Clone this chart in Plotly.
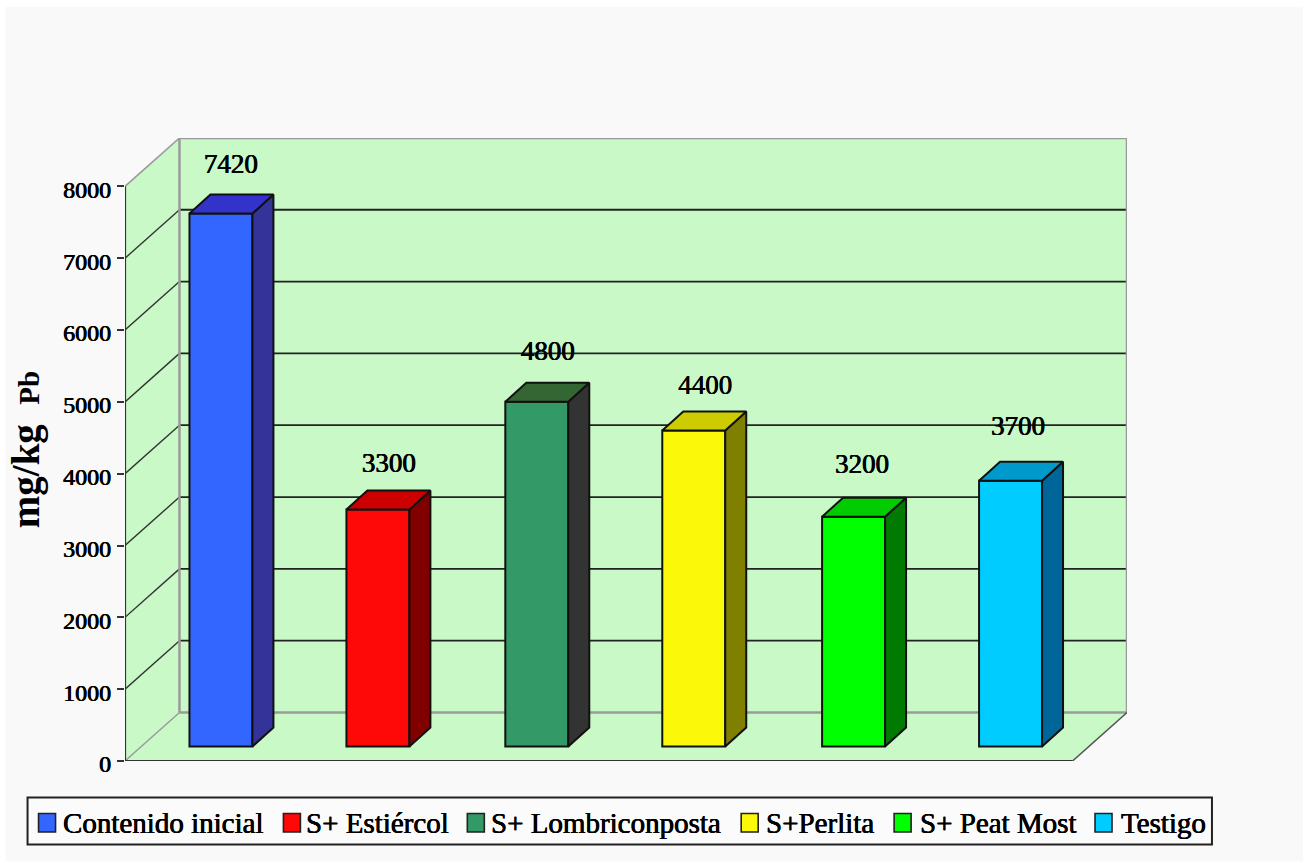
import plotly.graph_objects as go

series = ["Contenido inicial", "S+ Estiércol", "S+ Lombriconposta", "S+Perlita", "S+ Peat Most", "Testigo"]
values = [7420, 3300, 4800, 4400, 3200, 3700]
front_colors = ["#3366ff", "#ff0808", "#339966", "#fcf80a", "#00ff00", "#00ccff"]
side_colors = ["#333399", "#800000", "#333333", "#808000", "#007a00", "#006699"]
top_colors = ["#3333cc", "#cc0000", "#336633", "#cccc00", "#00cc00", "#0099cc"]
y_ticks = [0, 1000, 2000, 3000, 4000, 5000, 6000, 7000, 8000]
positions = [0, 0.994, 2.0, 2.994, 4.006, 5.0]

# label placement relative to the bar's front top edge (pixels)
label_dx_px = [10, 11, 11, 11.5, 8.5, 7.5]
label_dy_px = [47.5, 44.7, 49, 43.6, 50, 53]
# legend layout (pixels)
legend_box = (27, 798, 1212, 845)
legend_swatch_x = [38, 283, 467, 741, 894, 1095]
legend_text_x = [60, 304, 489, 764, 918, 1119]

W, H = 1309, 863
PL, PR, PT, PB = 124.5, 1127, 138.3, 761.5
PX_PER_UNIT_Y = 71.85 / 1000
PX_PER_CAT = 158
CAT0_PX = 220.5
x_range = [(PL - CAT0_PX) / PX_PER_CAT, (PR - CAT0_PX) / PX_PER_CAT]
y_max = (PB - PT) / PX_PER_UNIT_Y
WALL_DX = 54.5 / PX_PER_CAT
WALL_DY = 48.5 / PX_PER_UNIT_Y
BAR_W = 63 / PX_PER_CAT
BAR_DX = 21 / PX_PER_CAT
BAR_DY = 19 / PX_PER_UNIT_Y
BAR_BASE = 14.5 / PX_PER_UNIT_Y
X0, X1 = x_range
FRONT_R = X1 - WALL_DX
BACK_L = X0 + WALL_DX
TOP_T = y_max
THICK = "0.35px 0 0 #000, -0.35px 0 0 #000"

fig = go.Figure()
shapes = []
annotations = []

def poly(pts, fill=None):
    path = "M" + " L".join(f"{a},{b}" for a, b in pts) + " Z"
    return dict(type="path", path=path, xref="x", yref="y", layer="below",
                fillcolor=fill or "rgba(0,0,0,0)", line=dict(color="rgba(0,0,0,0)", width=0))
def seg(x0, y0, x1, y1, color, width):
    return dict(type="line", x0=x0, y0=y0, x1=x1, y1=y1, xref="x", yref="y", layer="below",
                line=dict(color=color, width=width))
def px_x(px):
    return (px - PL) / (PR - PL)
def px_y(px):
    return (PB - px) / (PB - PT)
def rect_px(x0, y0, x1, y1, fill, line_color=None, lw=0, layer="above"):
    return dict(type="rect", xref="paper", yref="paper", layer=layer,
                x0=px_x(x0), x1=px_x(x1), y0=px_y(y1), y1=px_y(y0), fillcolor=fill,
                line=dict(color=line_color or "rgba(0,0,0,0)", width=lw))

WALL = "#c9f9c6"
GREY = "#9a9a9a"
DARK = "#333333"
shapes.append(rect_px(5, 7, 1303, 862, "#f9f9f9", layer="below"))
shapes.append(poly([(X0, 0), (BACK_L, WALL_DY), (BACK_L, TOP_T), (X0, 8000)], WALL))
shapes.append(poly([(X0, 0), (FRONT_R, 0), (X1, WALL_DY), (BACK_L, WALL_DY)], WALL))
shapes.append(poly([(BACK_L, WALL_DY), (X1, WALL_DY), (X1, TOP_T), (BACK_L, TOP_T)], WALL))
for t in y_ticks[1:-1]:
    shapes.append(seg(BACK_L, t + WALL_DY, X1, t + WALL_DY, "#222222", 1.8))
    shapes.append(seg(X0, t, BACK_L, t + WALL_DY, "#333333", 1.4))
shapes.append(seg(BACK_L, WALL_DY, BACK_L, TOP_T, GREY, 2.5))
shapes.append(seg(BACK_L, TOP_T, X1, TOP_T, GREY, 2.5))
shapes.append(seg(X1, TOP_T, X1, WALL_DY, GREY, 2.5))
shapes.append(seg(BACK_L, WALL_DY, X1, WALL_DY, GREY, 2.5))
shapes.append(seg(X0, 0, BACK_L, WALL_DY, GREY, 1.4))
shapes.append(seg(X0, 8000, BACK_L, TOP_T, GREY, 1.6))
shapes.append(seg(FRONT_R, 0, X1, WALL_DY, "#555555", 1.6))
shapes.append(seg(X0, 0, X0, 8000, DARK, 2.2))
shapes.append(seg(X0, 0, FRONT_R, 0, DARK, 2.2))

OUT = dict(color="#111111", width=2)
for i, (name, v) in enumerate(zip(series, values)):
    c = positions[i]
    L, R = c - BAR_W / 2, c + BAR_W / 2
    fig.add_trace(go.Bar(x=[c], y=[v], base=[BAR_BASE], width=[BAR_W], name=name,
                         marker=dict(color=front_colors[i], line=OUT), showlegend=False,
                         hoverinfo="skip"))
    top = v + BAR_BASE
    fig.add_trace(go.Scatter(x=[R, R + BAR_DX, R + BAR_DX, R, R],
                             y=[BAR_BASE, BAR_BASE + BAR_DY, top + BAR_DY, top, BAR_BASE],
                             mode="lines", fill="toself", fillcolor=side_colors[i],
                             line=OUT, showlegend=False, hoverinfo="skip"))
    fig.add_trace(go.Scatter(x=[L, L + BAR_DX, R + BAR_DX, R, L],
                             y=[top, top + BAR_DY, top + BAR_DY, top, top],
                             mode="lines", fill="toself", fillcolor=top_colors[i],
                             line=OUT, showlegend=False, hoverinfo="skip"))

fig.add_trace(go.Scatter(x=[p + dx / PX_PER_CAT for p, dx in zip(positions, label_dx_px)],
                         y=[v + BAR_BASE + dy / PX_PER_UNIT_Y for v, dy in zip(values, label_dy_px)],
                         text=[str(v) for v in values], mode="text", textposition="middle center",
                         textfont=dict(family="Liberation Serif", size=27, color="#000000", shadow=THICK),
                         showlegend=False, hoverinfo="skip"))

# legend, laid out to the reference's uneven spacing
bx0, by0, bx1, by1 = legend_box
shapes.append(rect_px(bx0, by0, bx1, by1, "#fbfbfb", "#222222", 2))
for name, col, sx, tx in zip(series, front_colors, legend_swatch_x, legend_text_x):
    shapes.append(rect_px(sx, 814, sx + 17, 832.5, col, "#222222", 1.6))
    annotations.append(dict(text=name, xref="paper", yref="paper", x=px_x(tx), y=px_y(824),
                            xanchor="left", yanchor="middle", showarrow=False,
                            font=dict(family="Liberation Serif", size=29, color="#000000", shadow=THICK)))

fig.update_layout(
    width=W, height=H, autosize=False, paper_bgcolor="#ffffff", plot_bgcolor="rgba(0,0,0,0)",
    margin=dict(l=PL, r=W - PR, t=PT, b=H - PB, pad=0), shapes=shapes, annotations=annotations,
    barmode="overlay", showlegend=False,
    font=dict(family="Liberation Serif", color="#000000"),
    xaxis=dict(range=x_range, visible=False, fixedrange=True),
    yaxis=dict(range=[0, y_max], tickvals=y_ticks, ticktext=[str(t) for t in y_ticks],
               ticks="outside", ticklen=7, tickwidth=2, tickcolor=DARK, showgrid=False, zeroline=False,
               showline=False, ticklabelstandoff=1, ticklabelshift=3,
               tickfont=dict(family="Liberation Serif", size=24, color="#000000", shadow=THICK),
               title=dict(text='<b>mg/kg  <span style="font-size:29px">Pb</span></b>', standoff=11,
                          font=dict(family="Liberation Serif", size=39, color="#000000"))),
)

fig.write_html("out.html", config=dict(displayModeBar=False),
               post_script="document.body.style.margin='0';")
